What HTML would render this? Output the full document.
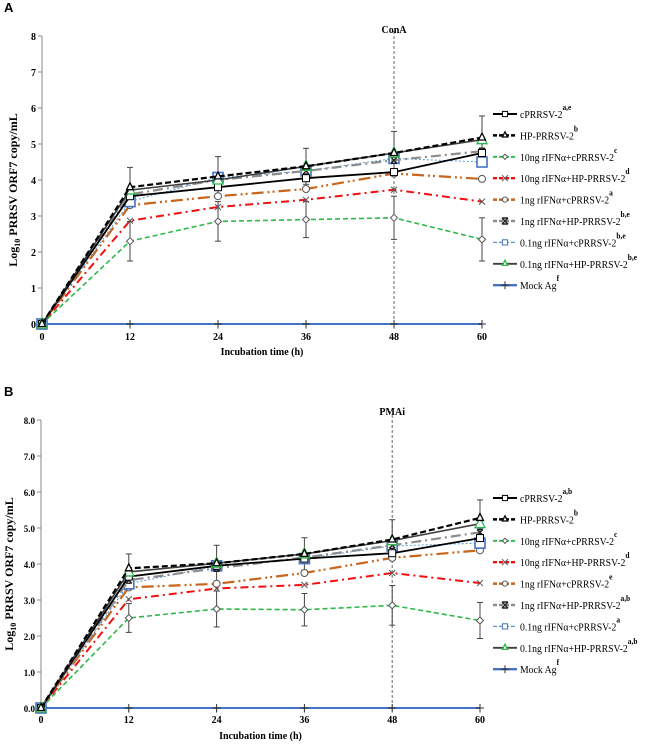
<!DOCTYPE html>
<html><head><meta charset="utf-8"><style>
body{margin:0;background:#fff;width:649px;height:744px;overflow:hidden}
svg text{font-family:"Liberation Serif",serif}
svg text.sans{font-family:"Liberation Sans",sans-serif}
</style></head><body>
<svg id="c" width="649" height="744" xmlns="http://www.w3.org/2000/svg"></svg>
<script>
const hours=[0,12,24,36,48,60];
const seriesNames=["cPRRSV-2","HP-PRRSV-2","10ng rIFNα+cPRRSV-2","10ng rIFNα+HP-PRRSV-2","1ng rIFNα+cPRRSV-2","1ng rIFNα+HP-PRRSV-2","0.1ng rIFNα+cPRRSV-2","0.1ng rIFNα+HP-PRRSV-2","Mock Ag"];
const supA=["a,e","b","c","d","a","b,e","b,e","b,e","f"];
const supB=["a,b","b","c","d","e","a,b","a","a,b","f"];
const valsA=[
[0,3.55,3.8,4.05,4.22,4.75],
[0,3.8,4.1,4.38,4.75,5.18],
[0,2.3,2.85,2.9,2.95,2.35],
[0,2.87,3.25,3.45,3.73,3.4],
[0,3.3,3.55,3.75,4.18,4.03],
[0,3.6,4.0,4.25,4.55,4.8],
[0,3.4,4.07,4.25,4.6,4.5],
[0,3.72,4.0,4.38,4.75,5.12],
[0,0,0,0,0,0]];
const valsB=[
[0,3.65,3.95,4.15,4.3,4.72],
[0,3.88,4.02,4.28,4.68,5.28],
[0,2.5,2.75,2.73,2.85,2.43],
[0,3.02,3.32,3.42,3.75,3.47],
[0,3.35,3.45,3.75,4.17,4.38],
[0,3.55,3.88,4.18,4.52,4.88],
[0,3.45,3.95,4.15,4.5,4.58],
[0,3.78,4.02,4.28,4.65,5.12],
[0,0,0,0,0,0]];
const errA=[0,0.55,0.55,0.5,0.6,0.6];
const errB=[0,0.4,0.5,0.45,0.55,0.5];
const yTicksA=["0","1","2","3","4","5","6","7","8"];
const yTicksB=["0.0","1.0","2.0","3.0","4.0","5.0","6.0","7.0","8.0"];
const styles=[
{c:"#000",w:1.8,d:"",m:"sq",mc:"#000"},
{c:"#000",w:2.2,d:"6,3",m:"tri",mc:"#000"},
{c:"#2db84a",w:1.6,d:"5,3",m:"dia",mc:"#555"},
{c:"#f01010",w:2,d:"8,4,2,4",m:"x",mc:"#555"},
{c:"#c8651b",w:2.2,d:"12,4,2,3,2,4",m:"circ",mc:"#555"},
{c:"#8c8c8c",w:2.2,d:"10,4,2,4",m:"ast",mc:"#222"},
{c:"#5b9bd5",w:1,d:"2,2",m:"sq",mc:"#4472c4"},
{c:"#404040",w:1.6,d:"",m:"tri",mc:"#2db84a"},
{c:"#4472c4",w:2,d:"",m:"plus",mc:"#333"}];
const NS="http://www.w3.org/2000/svg";
const svg=document.getElementById('c');
function el(t,a,p){const e=document.createElementNS(NS,t);for(const k in a)e.setAttribute(k,a[k]);(p||svg).appendChild(e);return e;}
function marker(g,type,x,y,col,big,sm){
  const s=sm?2.6:(big?5:3.5);let e;
  if(type==="sq")e=el('rect',{x:x-s,y:y-s,width:2*s,height:2*s,fill:"#fff",stroke:col,"stroke-width":big?1.6:1},g);
  else if(type==="tri")e=el('polygon',{points:`${x},${y-s-1} ${x-s},${y+s-1} ${x+s},${y+s-1}`,fill:"#fff",stroke:col,"stroke-width":1.3},g);
  else if(type==="dia")e=el('polygon',{points:`${x},${y-s} ${x+s},${y} ${x},${y+s} ${x-s},${y}`,fill:"#fff",stroke:col,"stroke-width":1},g);
  else if(type==="circ")e=el('circle',{cx:x,cy:y,r:s,fill:"#fff",stroke:col,"stroke-width":1},g);
  else if(type==="x")e=el('path',{d:`M${x-3},${y-3}L${x+3},${y+3}M${x+3},${y-3}L${x-3},${y+3}`,stroke:col,"stroke-width":1},g);
  else if(type==="ast")e=el('path',{d:`M${x-3},${y-3}L${x+3},${y+3}M${x+3},${y-3}L${x-3},${y+3}M${x-3},${y-3}L${x+3},${y-3}M${x-3},${y+3}L${x+3},${y+3}`,stroke:col,"stroke-width":1.4},g);
  else e=el('path',{d:`M${x-4},${y}L${x+4},${y}M${x},${y-4}L${x},${y+4}`,stroke:col,"stroke-width":1},g);
  return e;
}
function chart(o){
  const g=el('g',{});
  
  
  const X=h=>o.x0+(o.x1-o.x0)*h/60, Y=v=>o.y0-(o.y0-o.y8)*v/8;
  const lab=el('text',{x:4,y:o.labY,"font-size":13,"font-weight":"bold",class:"sans"},g);lab.textContent=o.label;
  
  el('line',{x1:o.x0,y1:o.y8,x2:o.x0,y2:o.y0,stroke:"#888"},g);
  o.ticks.forEach((t,i)=>{const y=Y(i);el('line',{x1:o.x0-4,y1:y,x2:o.x0,y2:y,stroke:"#888"},g);
    const tx=el('text',{x:o.x0-6,y:y+4,"font-size":o.tfs,"font-weight":"bold","text-anchor":"end"},g);tx.textContent=t;
    });
  hours.forEach(h=>{const x=X(h);el('line',{x1:x,y1:o.y0,x2:x,y2:o.y0+5,stroke:"#888"},g);
    const tx=el('text',{x:x,y:o.xlabY,"font-size":10,"font-weight":"bold","text-anchor":"middle"},g);tx.textContent=h;
    });
  const xt=el('text',{x:(o.x0+o.x1)/2,y:o.xtitY,"font-size":10,"font-weight":"bold","text-anchor":"middle"},g);xt.textContent="Incubation time (h)";
  
  const yt=el('text',{transform:`translate(${o.ytx},${(o.y0+o.y8)/2+10}) rotate(-90)`,"font-size":o.ytfs,"font-weight":"bold","text-anchor":"middle"},g);
  yt.innerHTML='Log<tspan font-size="8" dy="3">10</tspan><tspan dy="-3">  PRRSV ORF7 copy/mL</tspan>';
  
  el('line',{x1:X(48),y1:o.y8-5,x2:X(48),y2:o.y0,stroke:"#666","stroke-dasharray":"3,2"},g);
  const ct=el('text',{x:X(48),y:o.condY,"font-size":10,"font-weight":"bold","text-anchor":"middle"},g);ct.textContent=o.cond;
  
  [o.vals[2],o.vals[1]].forEach(s=>{hours.forEach((h,i)=>{if(!i)return;const x=X(h);
    el('line',{x1:x,y1:Y(s[i]+o.err[i]),x2:x,y2:Y(s[i]-o.err[i]),stroke:"#444"},g);
    el('line',{x1:x-3,y1:Y(s[i]+o.err[i]),x2:x+3,y2:Y(s[i]+o.err[i]),stroke:"#444"},g);
    el('line',{x1:x-3,y1:Y(s[i]-o.err[i]),x2:x+3,y2:Y(s[i]-o.err[i]),stroke:"#444"},g);});});
  const order=[8,2,3,4,6,5,0,7,1];
  order.forEach(k=>{const st=styles[k],s=o.vals[k];
    const p=el('polyline',{points:hours.map((h,i)=>X(h)+","+Y(s[i])).join(" "),fill:"none",stroke:st.c,"stroke-width":st.w,"stroke-dasharray":st.d},g);
    
    hours.forEach((h,i)=>{const m=marker(g,st.m,X(h),Y(s[i]),st.mc,k==6||k==7);
      });});
  seriesNames.forEach((n,k)=>{const st=styles[k],y=o.legY+k*o.legDy;
    const lg=el('g',{},g);
    el('line',{x1:493,y1:y,x2:517,y2:y,stroke:st.c,"stroke-width":st.w+0.3,"stroke-dasharray":st.d?"4,2":""},lg);
    marker(lg,st.m,505,y,st.mc,false,true);
    const t=el('text',{x:520,y:y+4,"font-size":10.5,transform:`translate(520,0) scale(0.93,1) translate(-520,0)`},lg);
    t.innerHTML=n+'<tspan dy="-8" font-size="8" font-weight="bold">'+o.sup[k]+'</tspan>';});
}
chart({name:'chart-a',label:'A',labY:12,x0:42,x1:482,y0:324,y8:36,ticks:yTicksA,tfs:10,ytx:17,ytfs:12,xlabY:340,xtitY:355,cond:'ConA',condY:33,vals:valsA,err:errA,sup:supA,legY:114,legDy:21.4});
chart({name:'chart-b',label:'B',labY:396,x0:41,x1:480,y0:708,y8:420,ticks:yTicksB,tfs:9,ytx:13,ytfs:12,xlabY:723,xtitY:739,cond:'PMAi',condY:415,vals:valsB,err:errB,sup:supB,legY:498,legDy:21.4});
</script>
</body></html>
